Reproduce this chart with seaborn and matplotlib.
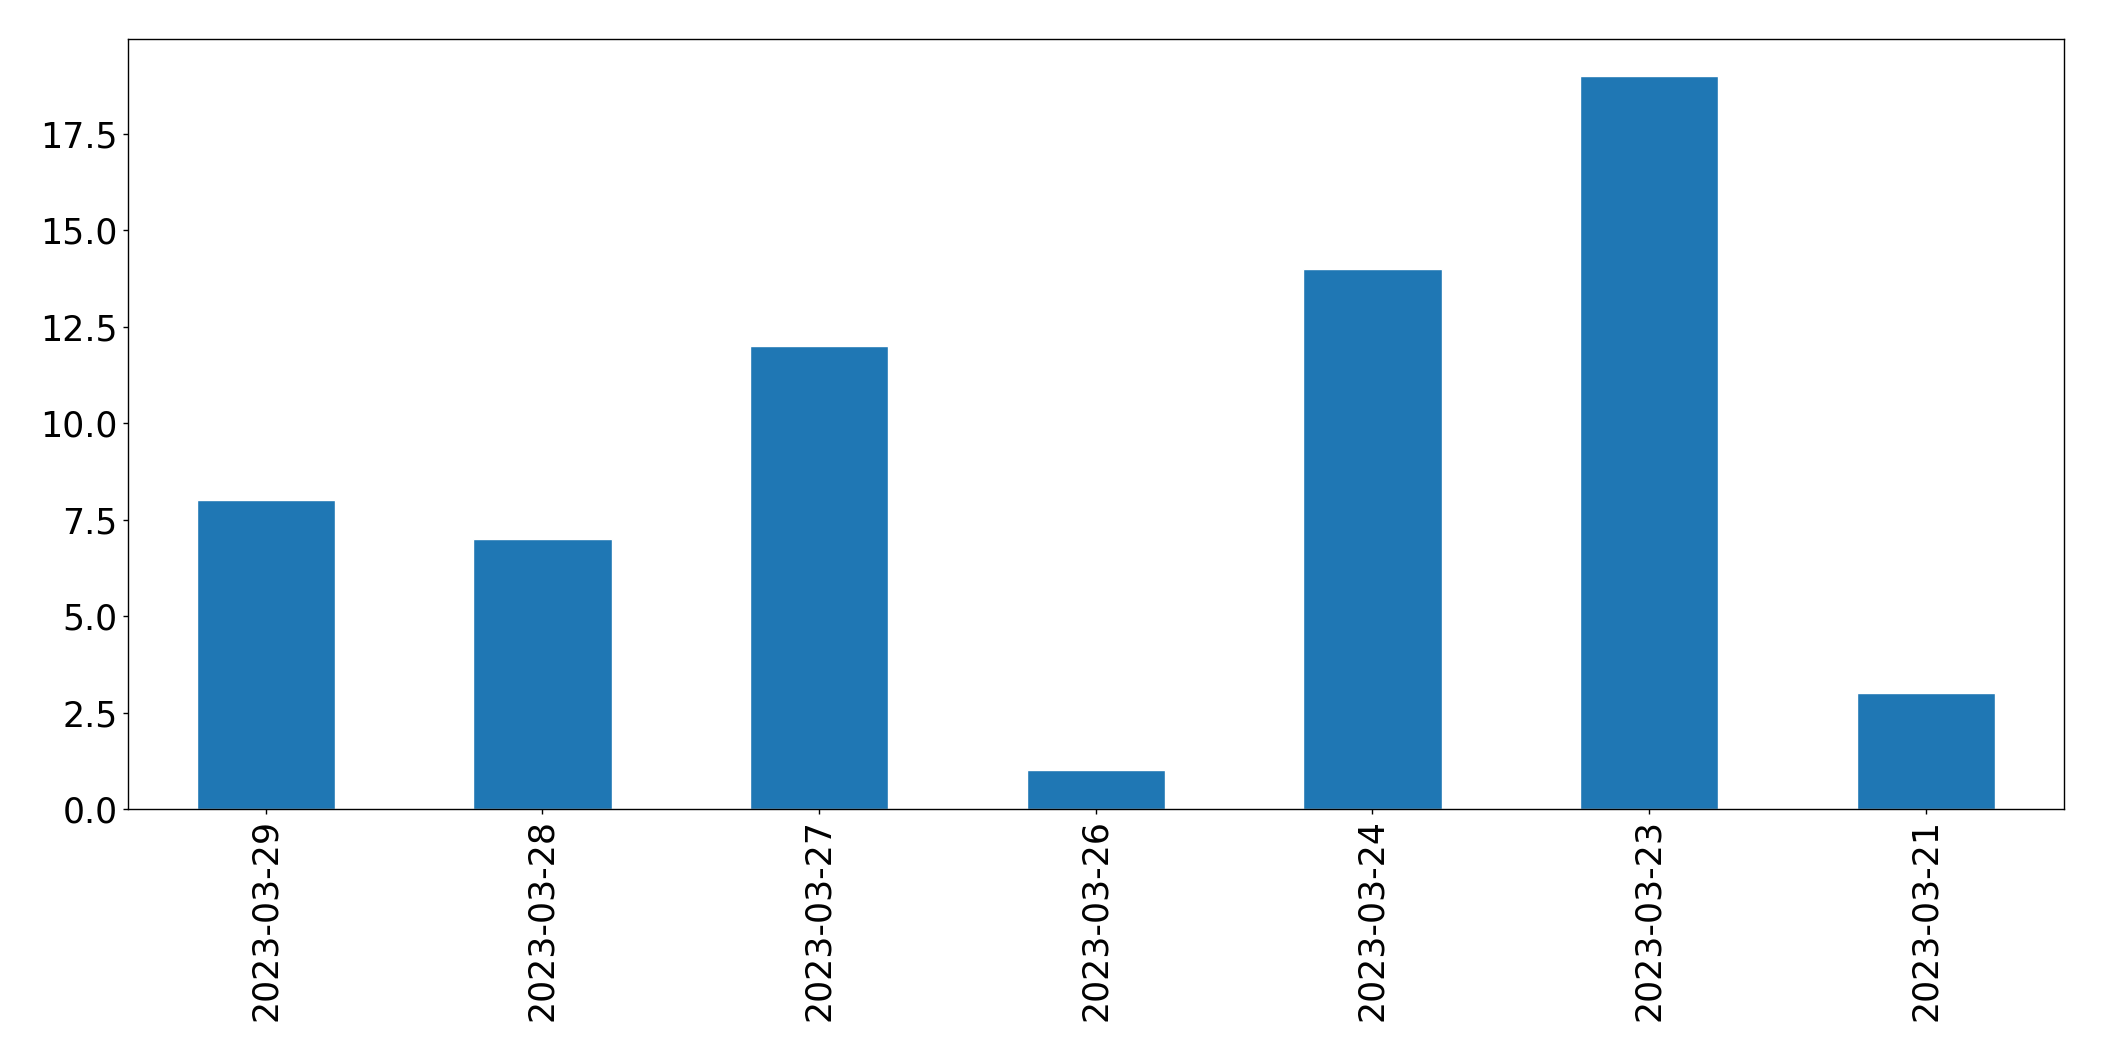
import matplotlib
matplotlib.use("Agg")
import matplotlib.pyplot as plt
import seaborn as sb
import pandas as pd

dates = ['2023-03-29', '2023-03-28', '2023-03-27', '2023-03-26',
         '2023-03-24', '2023-03-23', '2023-03-21']
counts = [8, 7, 12, 1, 14, 19, 3]

sb.set_style("ticks")
plt.rcParams['font.family'] = ['DejaVu Sans']
plt.rcParams['axes.edgecolor'] = 'black'
plt.rcParams['xtick.color'] = 'black'
plt.rcParams['ytick.color'] = 'black'

df = pd.DataFrame({'date': dates, 'count': counts})

fig = plt.figure(figsize=(21.04, 10.61), dpi=100)
ax = fig.add_axes([127.5 / 2104, 1 - 809 / 1061, (2064 - 127.5) / 2104, (809 - 39) / 1061])
sb.barplot(data=df, x='date', y='count', color='#1f77b4', saturation=1, width=0.5, ax=ax)

ax.set_xlabel('')
ax.set_ylabel('')
ax.set_xlim(-0.5, len(dates) - 0.5)
ax.set_ylim(0, 19.95)
ax.tick_params(axis='both', labelsize=25, length=3.5, width=1)
ax.tick_params(axis='x', rotation=90)
for s in ax.spines.values():
    s.set_visible(True)
    s.set_linewidth(1)

plt.savefig('out.png')
